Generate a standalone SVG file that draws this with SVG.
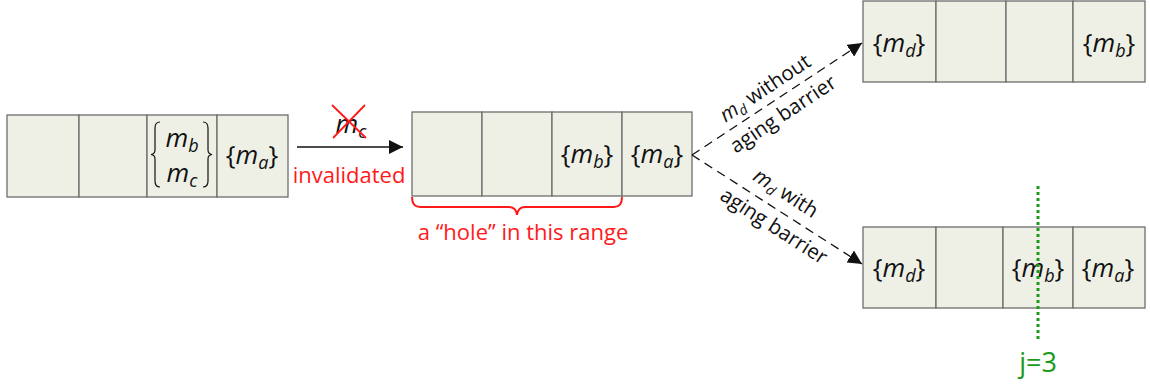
<svg xmlns="http://www.w3.org/2000/svg" width="1150" height="385" viewBox="0 0 1150 385">
<style>
.cell{fill:#eef0e6;stroke:#6e6e6e;stroke-width:1.3}
.t{font-family:"Open Sans","Liberation Sans",sans-serif;font-size:26px;fill:#111}
.i{font-style:italic}
.sub{font-size:18px}
.lbl{font-family:"Open Sans","Liberation Sans",sans-serif;font-size:20.5px;fill:#111}
.red{font-family:"Open Sans","Liberation Sans",sans-serif;font-size:22px;fill:#ff1a1a}
.dash{stroke:#111;stroke-width:1.3;stroke-dasharray:9 6;fill:none}
</style>
<defs>
<marker id="ah" viewBox="0 0 10 10" refX="10" refY="5" markerWidth="14" markerHeight="14" markerUnits="userSpaceOnUse" orient="auto">
<path d="M0,0 L10,5 L0,10 Z" fill="#111"/>
</marker>
</defs>

<g id="row1">
<rect class="cell" x="7" y="115" width="72" height="82"/>
<rect class="cell" x="79" y="115" width="68" height="82"/>
<rect class="cell" x="147" y="115" width="70" height="82"/>
<rect class="cell" x="217" y="115" width="71" height="82"/>
<path d="M160,122 Q155,122 155,128 L155,150 Q155,154 151,154.5 Q155,155 155,159 L155,181 Q155,187 160,187" fill="none" stroke="#111" stroke-width="1.2"/>
<path d="M203,122 Q208,122 208,128 L208,150 Q208,154 212,154.5 Q208,155 208,159 L208,181 Q208,187 203,187" fill="none" stroke="#111" stroke-width="1.2"/>
<text class="t" x="182" y="147" text-anchor="middle"><tspan class="i">m</tspan><tspan class="sub i" dy="5">b</tspan></text>
<text class="t" x="182" y="182" text-anchor="middle"><tspan class="i">m</tspan><tspan class="sub i" dy="5">c</tspan></text>
<text class="t" x="252" y="164" text-anchor="middle">{<tspan class="i">m</tspan><tspan class="sub i" dy="5">a</tspan><tspan dy="-5">}</tspan></text>
</g>

<g id="row2">
<rect class="cell" x="412" y="112" width="70" height="84"/>
<rect class="cell" x="482" y="112" width="70" height="84"/>
<rect class="cell" x="552" y="112" width="70" height="84"/>
<rect class="cell" x="622" y="112" width="70" height="84"/>
<text class="t" x="587" y="163" text-anchor="middle">{<tspan class="i">m</tspan><tspan class="sub i" dy="5">b</tspan><tspan dy="-5">}</tspan></text>
<text class="t" x="657" y="163" text-anchor="middle">{<tspan class="i">m</tspan><tspan class="sub i" dy="5">a</tspan><tspan dy="-5">}</tspan></text>
</g>

<g id="row3">
<rect class="cell" x="863" y="1" width="73" height="81"/>
<rect class="cell" x="936" y="1" width="70" height="81"/>
<rect class="cell" x="1006" y="1" width="67" height="81"/>
<rect class="cell" x="1073" y="1" width="72" height="81"/>
<text class="t" x="899" y="52" text-anchor="middle">{<tspan class="i">m</tspan><tspan class="sub i" dy="5">d</tspan><tspan dy="-5">}</tspan></text>
<text class="t" x="1109" y="52" text-anchor="middle">{<tspan class="i">m</tspan><tspan class="sub i" dy="5">b</tspan><tspan dy="-5">}</tspan></text>
</g>

<g id="row4">
<rect class="cell" x="863" y="227" width="73" height="81"/>
<rect class="cell" x="936" y="227" width="67" height="81"/>
<rect class="cell" x="1003" y="227" width="70" height="81"/>
<rect class="cell" x="1073" y="227" width="72" height="81"/>
<text class="t" x="899" y="277" text-anchor="middle">{<tspan class="i">m</tspan><tspan class="sub i" dy="5">d</tspan><tspan dy="-5">}</tspan></text>
<text class="t" x="1038" y="277" text-anchor="middle">{<tspan class="i">m</tspan><tspan class="sub i" dy="5">b</tspan><tspan dy="-5">}</tspan></text>
<text class="t" x="1108" y="277" text-anchor="middle">{<tspan class="i">m</tspan><tspan class="sub i" dy="5">a</tspan><tspan dy="-5">}</tspan></text>
</g>

<g id="marker-j3">
<line x1="1038" y1="186" x2="1038" y2="340" stroke="#1a9a1a" stroke-width="3" stroke-dasharray="3 3"/>
<text x="1038" y="372" text-anchor="middle" font-family="'Open Sans','Liberation Sans',sans-serif" font-size="27" fill="#1a9a1a">j=3</text>
</g>

<g id="connectors">
<line x1="297" y1="147" x2="403" y2="147" stroke="#111" stroke-width="1.5" marker-end="url(#ah)"/>
<text class="t" x="351" y="133" text-anchor="middle"><tspan class="i">m</tspan><tspan class="sub i" dy="5">c</tspan></text>
<line x1="332" y1="105" x2="366" y2="138" stroke="#ff1a1a" stroke-width="1.8"/>
<line x1="365" y1="105" x2="333" y2="138" stroke="#ff1a1a" stroke-width="1.8"/>
<text class="red" x="349" y="183" text-anchor="middle">invalidated</text>

<path d="M412,197 Q412,207 420,207 L509,207 Q516,207 517,215 Q518,207 525,207 L614,207 Q622,207 622,197" fill="none" stroke="#ff1a1a" stroke-width="2"/>
<text class="red" x="523" y="240" text-anchor="middle">a “hole” in this range</text>

<line class="dash" x1="692" y1="155" x2="862" y2="43" marker-end="url(#ah)"/>
<line class="dash" x1="692" y1="155" x2="862" y2="264" marker-end="url(#ah)"/>

<text class="lbl" text-anchor="middle" transform="translate(765,88) rotate(-33.6)" y="7"><tspan class="i">m</tspan><tspan font-size="14" class="i" dy="4">d</tspan><tspan dy="-4"> without</tspan></text>
<text class="lbl" text-anchor="middle" transform="translate(783,114) rotate(-33.6)" y="7">aging barrier</text>
<text class="lbl" text-anchor="middle" transform="translate(786,193) rotate(32.8)" y="7"><tspan class="i">m</tspan><tspan font-size="14" class="i" dy="4">d</tspan><tspan dy="-4"> with</tspan></text>
<text class="lbl" text-anchor="middle" transform="translate(774,226) rotate(32.8)" y="7">aging barrier</text>
</g>
</svg>
